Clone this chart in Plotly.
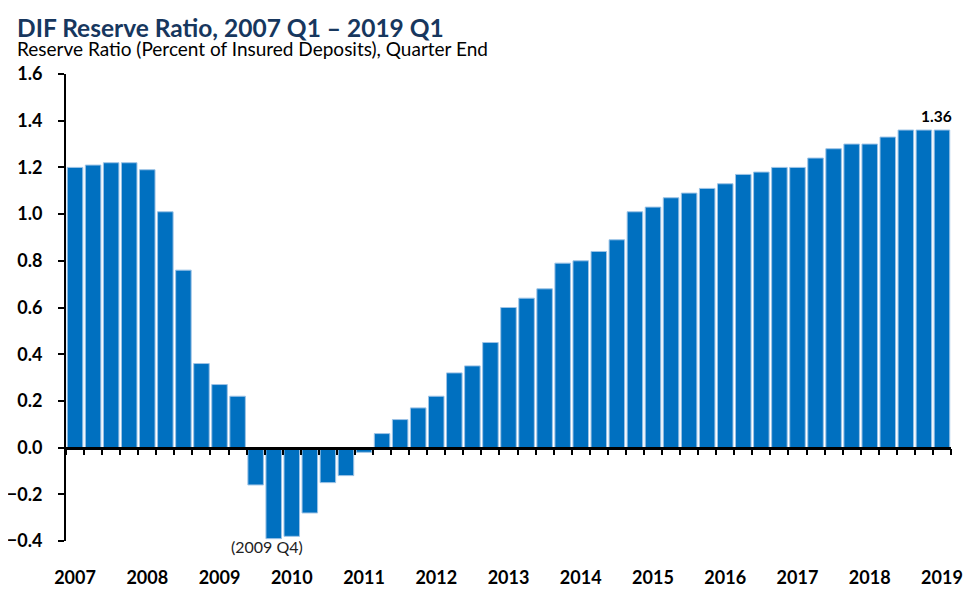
import plotly.graph_objects as go

# ---- data ----
quarters = [f"{y} Q{q}" for y in range(2007, 2019) for q in range(1, 5)] + ["2019 Q1"]
reserve_ratio = [
    1.20, 1.21, 1.22, 1.22,
    1.19, 1.01, 0.76, 0.36,
    0.27, 0.22, -0.16, -0.39,
    -0.38, -0.28, -0.15, -0.12,
    -0.02, 0.06, 0.12, 0.17,
    0.22, 0.32, 0.35, 0.45,
    0.60, 0.64, 0.68, 0.79,
    0.80, 0.84, 0.89, 1.01,
    1.03, 1.07, 1.09, 1.11,
    1.13, 1.17, 1.18, 1.20,
    1.20, 1.24, 1.28, 1.30,
    1.30, 1.33, 1.36, 1.36,
    1.36,
]
year_tick_labels = [q[:4] if q.endswith("Q1") else "" for q in quarters]
y_tick_vals = [-0.4, -0.2, 0.0, 0.2, 0.4, 0.6, 0.8, 1.0, 1.2, 1.4, 1.6]
low_label = "(2009 Q4)"
low_quarter = "2009 Q4"
title_text = "DIF Reserve Ratio, 2007 Q1 \u2013 2019 Q1"
subtitle_text = "Reserve Ratio (Percent of Insured Deposits), Quarter End"

FONT = "Lato"
BAR_COLOR = "#0070C0"
EDGE_COLOR = "#9DC3E6"

# the page body adds an 8px offset; the figure is sized to fill the rest of the window
W, H = 967, 585
ML, MR, MT, MB = 58, 24, 66, 52
PW, PH = W - ML - MR, H - MT - MB

y_min, y_max = y_tick_vals[0], y_tick_vals[-1]
zero_pos = (0 - y_min) / (y_max - y_min)

fig = go.Figure()
fig.add_trace(go.Bar(
    x=quarters, y=reserve_ratio,
    marker=dict(color=BAR_COLOR, line=dict(color=EDGE_COLOR, width=1)),
    hoverinfo="x+y", showlegend=False,
))
# invisible trace carrying the zero-line axis (x2)
fig.add_trace(go.Scatter(
    x=quarters, y=reserve_ratio, xaxis="x2", mode="markers",
    marker=dict(opacity=0), hoverinfo="skip", showlegend=False,
))

fig.update_layout(
    width=W, height=H,
    margin=dict(l=ML, r=MR, t=MT, b=MB),
    paper_bgcolor="white", plot_bgcolor="white",
    bargap=0.14,
    font=dict(family=FONT, color="black"),
    xaxis=dict(
        type="category", categoryorder="array", categoryarray=quarters,
        tickmode="array", tickvals=quarters, ticktext=year_tick_labels,
        ticks="", showline=False, showgrid=False, zeroline=False,
        tickfont=dict(family=FONT, size=18, color="black", weight="bold"),
        ticklabelstandoff=24, automargin=False,
        range=[-0.5, len(quarters) - 0.5],
    ),
    xaxis2=dict(
        type="category", categoryorder="array", categoryarray=quarters,
        overlaying="x", matches="x", anchor="free", position=zero_pos, side="bottom",
        tickmode="array", tickvals=quarters, tickson="boundaries",
        ticks="outside", ticklen=6, tickwidth=1.5, tickcolor="black",
        showticklabels=False, showline=True, linecolor="black", linewidth=2.5,
        showgrid=False, zeroline=False, automargin=False,
    ),
    yaxis=dict(
        range=[y_min, y_max], tickmode="array", tickvals=y_tick_vals,
        tickformat=".1f", ticks="outside", ticklen=6, tickwidth=1.5, tickcolor="black",
        showline=True, linecolor="black", linewidth=2, showgrid=False, zeroline=False,
        tickfont=dict(family=FONT, size=18, color="black", weight="bold"),
        ticklabelstandoff=12, automargin=False,
    ),
    annotations=[
        dict(text=title_text, xref="paper", yref="paper", x=(7 - ML) / PW, y=1 + 30 / PH,
             xanchor="left", yanchor="bottom", showarrow=False,
             font=dict(family=FONT, size=24.5, color="#17375E", weight="bold")),
        dict(text=subtitle_text, xref="paper", yref="paper", x=(7 - ML) / PW, y=1 + 12 / PH,
             xanchor="left", yanchor="bottom", showarrow=False,
             font=dict(family=FONT, size=19, color="black")),
        dict(text=low_label, x=low_quarter, y=min(reserve_ratio), xref="x", yref="y",
             xanchor="center", yanchor="top", xshift=-7, yshift=4, showarrow=False,
             font=dict(family=FONT, size=16, color="#222222")),
        dict(text=f"{reserve_ratio[-1]:.2f}", x=quarters[-1], y=reserve_ratio[-1],
             xref="x", yref="y", xanchor="center", yanchor="bottom", xshift=-5, yshift=3,
             showarrow=False, font=dict(family=FONT, size=15.5, color="black", weight="bold")),
    ],
)

fig.write_html("out.html")
